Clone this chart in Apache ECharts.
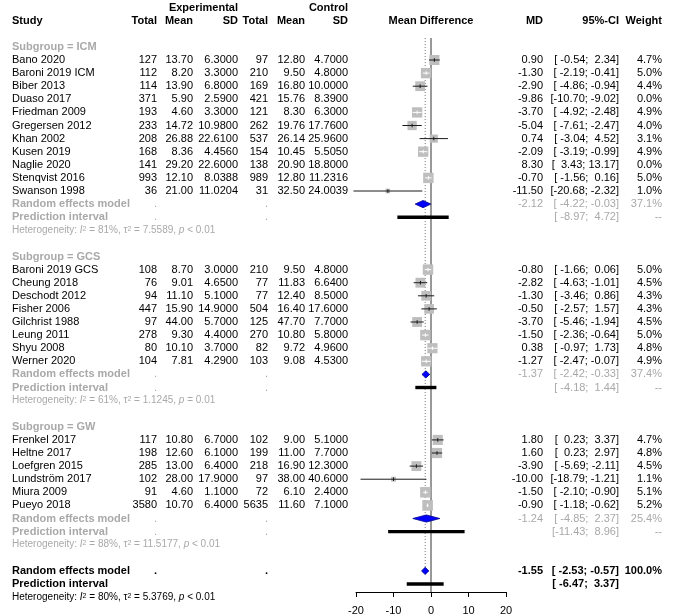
<!DOCTYPE html>
<html><head><meta charset="utf-8">
<script src="https://cdn.jsdelivr.net/npm/echarts@6/dist/echarts.min.js"></script>
<style>html,body{margin:0;padding:0;background:#fff}#c{width:676px;height:616px}</style>
</head><body><div id="c"></div>
<script>
// ---------------- data ----------------
const studies = ['Bano 2020','Baroni 2019 ICM','Biber 2013','Duaso 2017','Friedman 2009','Gregersen 2012','Khan 2002','Kusen 2019','Naglie 2020','Stenqvist 2016','Swanson 1998',
  'Baroni 2019 GCS','Cheung 2018','Deschodt 2012','Fisher 2006','Gilchrist 1988','Leung 2011','Shyu 2008','Werner 2020',
  'Frenkel 2017','Heltne 2017','Loefgren 2015','Lundström 2017','Miura 2009','Pueyo 2018'];
const group = ['ICM','ICM','ICM','ICM','ICM','ICM','ICM','ICM','ICM','ICM','ICM',
  'GCS','GCS','GCS','GCS','GCS','GCS','GCS','GCS',
  'GW','GW','GW','GW','GW','GW'];
const expTotal = [127,112,114,371,193,233,208,168,141,993,36, 108,76,94,447,97,278,80,104, 117,198,285,102,91,3580];
const expMean = [13.70,8.20,13.90,5.90,4.60,14.72,26.88,8.36,29.20,12.10,21.00, 8.70,9.01,11.10,15.90,44.00,9.30,10.10,7.81, 10.80,12.60,13.00,28.00,4.60,10.70];
const expSD = [6.3,3.3,6.8,2.59,3.3,10.98,22.61,4.456,22.6,8.0388,11.0204, 3.0,4.65,5.1,14.9,5.7,4.4,3.7,4.29, 6.7,6.1,6.4,17.9,1.1,6.4];
const ctlTotal = [97,210,169,421,121,262,537,154,138,989,31, 210,77,77,504,125,270,82,103, 102,199,218,97,72,5635];
const ctlMean = [12.80,9.50,16.80,15.76,8.30,19.76,26.14,10.45,20.90,12.80,32.50, 9.50,11.83,12.40,16.40,47.70,10.80,9.72,9.08, 9.00,11.00,16.90,38.00,6.10,11.60];
const ctlSD = [4.7,4.8,10.0,8.39,6.3,17.76,25.96,5.505,18.8,11.2316,24.0039, 4.8,6.64,8.5,17.6,7.7,5.8,4.96,4.53, 5.1,7.7,12.3,40.6,2.4,7.1];
const md = [0.90,-1.30,-2.90,-9.86,-3.70,-5.04,0.74,-2.09,8.30,-0.70,-11.50, -0.80,-2.82,-1.30,-0.50,-3.70,-1.50,0.38,-1.27, 1.80,1.60,-3.90,-10.00,-1.50,-0.90];
const ciLow = [-0.54,-2.19,-4.86,-10.70,-4.92,-7.61,-3.04,-3.19,3.43,-1.56,-20.68, -1.66,-4.63,-3.46,-2.57,-5.46,-2.36,-0.97,-2.47, 0.23,0.23,-5.69,-18.79,-2.10,-1.18];
const ciHigh = [2.34,-0.41,-0.94,-9.02,-2.48,-2.47,4.52,-0.99,13.17,0.16,-2.32, 0.06,-1.01,0.86,1.57,-1.94,-0.64,1.73,-0.07, 3.37,2.97,-2.11,-1.21,-0.90,-0.62];
const weight = [4.7,5.0,4.4,0.0,4.9,4.0,3.1,4.9,0.0,5.0,1.0, 5.0,4.5,4.3,4.3,4.5,5.0,4.8,4.9, 4.7,4.8,4.5,1.1,5.1,5.2];

const sgNames = ['ICM','GCS','GW'];
const sgMD = [-2.12,-1.37,-1.24];
const sgLow = [-4.22,-2.42,-4.85];
const sgHigh = [-0.03,-0.33,2.37];
const sgWeight = [37.1,37.4,25.4];
const sgPredLow = [-8.97,-4.18,-11.43];
const sgPredHigh = [4.72,1.44,8.96];
const sgI2 = [81,61,88];
const sgTau2 = [7.5589,1.1245,11.5177];
const sgP = ['< 0.01','= 0.01','< 0.01'];

const overallMD = -1.55, overallLow = -2.53, overallHigh = -0.57, overallWeight = 100.0;
const overallPredLow = -6.47, overallPredHigh = 3.37;
const overallI2 = 80, overallTau2 = 5.3769, overallP = '< 0.01';

const xTicks = [-20, -10, 0, 10, 20];

// ---------------- layout & styles ----------------
const FF = '"Liberation Sans", Arial, Helvetica, sans-serif';
const COLS = {
  study:{x:12, align:'left'}, eT:{x:157, align:'right'}, eM:{x:193, align:'right'}, eS:{x:238, align:'right'},
  cT:{x:268, align:'right'}, cM:{x:305, align:'right'}, cS:{x:348, align:'right'},
  md:{x:543, align:'right'}, ci:{x:619, align:'right'}, w:{x:662, align:'right'}, plot:{x:null, align:'center'}
};
const GRAY = '#a9a9a9';
const STY = {
  txt:{fill:'#000', fontSize:11, fontFamily:FF},
  bold:{fill:'#000', fontSize:11, fontFamily:FF, fontWeight:'bold'},
  gray:{fill:GRAY, fontSize:11, fontFamily:FF},
  grayBold:{fill:GRAY, fontSize:11, fontFamily:FF, fontWeight:'bold'},
  het:{fill:GRAY, fontSize:10, fontFamily:FF},
  hetBlack:{fill:'#000', fontSize:10, fontFamily:FF}
};
const SQ_K = 4.65;      // square side (px) per sqrt(weight %)
const DIA_H = 3.6;      // half height of diamonds (px)
const PRED_H = 3.4;     // height of prediction bar (px)
const LINE_TOP = -1.68; // top of reference lines (row units)
const Y_MIN = -2, Y_MAX = 40.61;

// ---------------- build rows ----------------
const f2 = v => v.toFixed(2), f4 = v => v.toFixed(4);
const ciStr = (lo, hi) => '[' + f2(lo).padStart(6, ' ') + '; ' + f2(hi).padStart(5, ' ') + ']';
const wStr = w => w.toFixed(1) + '%';
const hetStr = (i2, t2, p) => 'Heterogeneity: {i|I}{s|2} = ' + i2 + '%, τ{s|2} = ' + t2.toFixed(4) + ', {i|p} ' + p;

const rows = [];
const studyMarks = [], diamondMarks = [], predMarks = [];
rows.push({r:-4, cells:[{col:'eS', text:'Experimental', sty:'bold'}, {col:'cS', text:'Control', sty:'bold'}]});
rows.push({r:-3, cells:[
  {col:'study', text:'Study', sty:'bold'}, {col:'eT', text:'Total', sty:'bold'}, {col:'eM', text:'Mean', sty:'bold'}, {col:'eS', text:'SD', sty:'bold'},
  {col:'cT', text:'Total', sty:'bold'}, {col:'cM', text:'Mean', sty:'bold'}, {col:'cS', text:'SD', sty:'bold'},
  {col:'plot', text:'Mean Difference', sty:'bold'}, {col:'md', text:'MD', sty:'bold'}, {col:'ci', text:'95%-CI', sty:'bold'}, {col:'w', text:'Weight', sty:'bold'}]});
let r = -1;
sgNames.forEach((g, gi) => {
  rows.push({r, cells:[{col:'study', text:'Subgroup = ' + g, sty:'grayBold'}]}); r++;
  studies.forEach((s, i) => {
    if (group[i] !== g) return;
    rows.push({r, cells:[
      {col:'study', text:s, sty:'txt'}, {col:'eT', text:String(expTotal[i]), sty:'txt'}, {col:'eM', text:f2(expMean[i]), sty:'txt'},
      {col:'eS', text:f4(expSD[i]), sty:'txt'}, {col:'cT', text:String(ctlTotal[i]), sty:'txt'}, {col:'cM', text:f2(ctlMean[i]), sty:'txt'},
      {col:'cS', text:f4(ctlSD[i]), sty:'txt'}, {col:'md', text:f2(md[i]), sty:'txt'}, {col:'ci', text:ciStr(ciLow[i], ciHigh[i]), sty:'txt'},
      {col:'w', text:wStr(weight[i]), sty:'txt'}]});
    if (weight[i] > 0) studyMarks.push([md[i], ciLow[i], ciHigh[i], weight[i], r]);
    r++;
  });
  rows.push({r, cells:[{col:'study', text:'Random effects model', sty:'grayBold'}, {col:'eT', text:'.', sty:'gray'}, {col:'cT', text:'.', sty:'gray'},
    {col:'md', text:f2(sgMD[gi]), sty:'gray'}, {col:'ci', text:ciStr(sgLow[gi], sgHigh[gi]), sty:'gray'}, {col:'w', text:wStr(sgWeight[gi]), sty:'gray'}]});
  diamondMarks.push([sgMD[gi], sgLow[gi], sgHigh[gi], r]); r++;
  rows.push({r, cells:[{col:'study', text:'Prediction interval', sty:'grayBold'}, {col:'eT', text:'.', sty:'gray'}, {col:'cT', text:'.', sty:'gray'},
    {col:'ci', text:ciStr(sgPredLow[gi], sgPredHigh[gi]), sty:'gray'}, {col:'w', text:'--', sty:'gray'}]});
  predMarks.push([sgPredLow[gi], sgPredHigh[gi], r]); r++;
  rows.push({r, cells:[{col:'study', text:hetStr(sgI2[gi], sgTau2[gi], sgP[gi]), sty:'het', rich:true}]}); r++;
  r++;
});
const overallRow = r;
rows.push({r, cells:[{col:'study', text:'Random effects model', sty:'bold'}, {col:'eT', text:'.', sty:'bold'}, {col:'cT', text:'.', sty:'bold'},
  {col:'md', text:f2(overallMD), sty:'bold'}, {col:'ci', text:ciStr(overallLow, overallHigh), sty:'bold'}, {col:'w', text:wStr(overallWeight), sty:'bold'}]});
diamondMarks.push([overallMD, overallLow, overallHigh, r]); r++;
rows.push({r, cells:[{col:'study', text:'Prediction interval', sty:'bold'}, {col:'ci', text:ciStr(overallPredLow, overallPredHigh), sty:'bold'}]});
predMarks.push([overallPredLow, overallPredHigh, r]); r++;
rows.push({r, cells:[{col:'study', text:hetStr(overallI2, overallTau2, overallP), sty:'hetBlack', rich:true}]});

const refLines = [[0, LINE_TOP, Y_MAX, 0], [overallMD, LINE_TOP, overallRow, 1]];

// ---------------- render ----------------
function richFor(base) {
  return {
    i: {fill: base.fill, fontSize: base.fontSize, fontFamily: FF, fontStyle: 'italic'},
    s: {fill: base.fill, fontSize: 7, fontFamily: FF, verticalAlign: 'top'}
  };
}
function tableItem(params, api) {
  const row = rows[api.value(2)];
  const y = api.coord([0, api.value(1)])[1];
  const children = row.cells.map(c => {
    const col = COLS[c.col];
    const base = STY[c.sty];
    const x = c.col === 'plot' ? api.coord([0, 0])[0] : col.x;
    const style = Object.assign({text: c.text, align: col.align, verticalAlign: 'middle'}, base);
    if (c.rich) style.rich = richFor(base);
    return {type: 'text', x: x, y: y, silent: true, style: style};
  });
  return {type: 'group', children: children};
}
function studyItem(params, api) {
  const m = api.value(0), lo = api.value(1), hi = api.value(2), w = api.value(3), rr = api.value(4);
  const c = api.coord([m, rr]), pl = api.coord([lo, rr]), ph = api.coord([hi, rr]);
  const side = SQ_K * Math.sqrt(w);
  const inside = (ph[0] - pl[0]) < side;
  const lc = inside ? '#ffffff' : '#1a1a1a';
  return {type: 'group', children: [
    {type: 'rect', shape: {x: c[0] - side / 2, y: c[1] - side / 2, width: side, height: side}, style: {fill: '#bebebe'}},
    {type: 'line', shape: {x1: pl[0], y1: c[1], x2: ph[0], y2: c[1]}, style: {stroke: lc, lineWidth: 1}},
    {type: 'line', shape: {x1: c[0], y1: c[1] - 1.8, x2: c[0], y2: c[1] + 1.8}, style: {stroke: lc, lineWidth: 1}}
  ]};
}
function diamondItem(params, api) {
  const rr = api.value(3);
  const c = api.coord([api.value(0), rr]), pl = api.coord([api.value(1), rr]), ph = api.coord([api.value(2), rr]);
  return {type: 'polygon', shape: {points: [[pl[0], c[1]], [c[0], c[1] - DIA_H], [ph[0], c[1]], [c[0], c[1] + DIA_H]]},
    style: {fill: '#0000ff', stroke: '#00008b', lineWidth: 0.8}};
}
function predItem(params, api) {
  const rr = api.value(2);
  const pl = api.coord([api.value(0), rr]), ph = api.coord([api.value(1), rr]);
  return {type: 'rect', shape: {x: pl[0], y: pl[1] - PRED_H / 2, width: ph[0] - pl[0], height: PRED_H}, style: {fill: '#000'}};
}
function refItem(params, api) {
  const a = api.coord([api.value(0), api.value(1)]), b = api.coord([api.value(0), api.value(2)]);
  const dotted = api.value(3) === 1;
  return {type: 'line', shape: {x1: a[0], y1: a[1], x2: b[0], y2: b[1]},
    style: dotted ? {stroke: '#777', lineWidth: 1, lineDash: [1, 2]} : {stroke: '#333', lineWidth: 1}};
}

const chart = echarts.init(document.getElementById('c'), null, {renderer: 'canvas'});
chart.setOption({
  animation: false,
  backgroundColor: '#fff',
  grid: {left: 356, right: 170, top: 60 + Y_MIN * 13.1, bottom: 24, containLabel: false},
  xAxis: {
    type: 'value', min: xTicks[0], max: xTicks[xTicks.length - 1], interval: 10,
    axisLine: {show: true, onZero: false, lineStyle: {color: '#000', width: 1}},
    axisTick: {show: true, length: 5, lineStyle: {color: '#000'}},
    axisLabel: {show: true, color: '#000', fontSize: 11, fontFamily: FF, margin: 13},
    splitLine: {show: false}
  },
  yAxis: {type: 'value', inverse: true, min: Y_MIN, max: Y_MAX, show: false, splitLine: {show: false}},
  series: [
    {type: 'custom', name: 'ref', clip: false, renderItem: refItem, data: refLines, encode: {x: 0, y: 1}, z: 1},
    {type: 'custom', name: 'pred', clip: false, renderItem: predItem, data: predMarks, encode: {x: [0, 1], y: 2}, z: 2},
    {type: 'custom', name: 'studies', clip: false, renderItem: studyItem, data: studyMarks, encode: {x: [0, 1, 2], y: 4}, z: 3},
    {type: 'custom', name: 'diamonds', clip: false, renderItem: diamondItem, data: diamondMarks, encode: {x: [0, 1, 2], y: 3}, z: 4},
    {type: 'custom', name: 'table', clip: false, renderItem: tableItem, data: rows.map((row, i) => [0, row.r, i]), encode: {x: 0, y: 1}, z: 5}
  ]
});
</script></body></html>
